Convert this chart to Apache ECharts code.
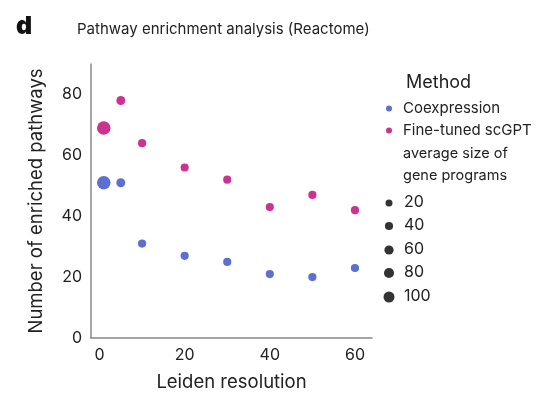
<!DOCTYPE html>
<html><head><meta charset="utf-8">
<script src="https://cdn.jsdelivr.net/npm/echarts@6/dist/echarts.min.js"></script>
<style>html,body{margin:0;padding:0;background:#fff}#c{width:542px;height:394px}</style>
</head><body><div id="c"></div>
<script>
var resolution = [1, 5, 10, 20, 30, 40, 50, 60];
var coexpression = [51, 51, 31, 27, 25, 21, 20, 23];
var scgpt = [69, 78, 64, 56, 52, 43, 47, 42];
var avgSize = [170, 55, 40, 40, 40, 40, 40, 40];
var xTicks = [0, 20, 40, 60];
var yTicks = [0, 20, 40, 60, 80];
var sizeKey = [20, 40, 60, 80, 100];
var FONT = 'Inter';
function dia(v){ return Math.sqrt(31 + 0.9 * v); }
function mk(ys){ return resolution.map(function(x,i){ return [x, ys[i], avgSize[i]]; }); }
var chart = echarts.init(document.getElementById('c'), null, {renderer:'canvas'});
var graphics = [
  {type:'text', left:16, top:14, style:{text:'d', font:'900 25px ' + FONT, fill:'#111'}},
  {type:'text', left:77, top:22, style:{text:'Pathway enrichment analysis (Reactome)', font:'15px ' + FONT, fill:'#222'}},
  {type:'text', left:406, top:74, style:{text:'Method', font:'18px ' + FONT, fill:'#222'}},
  {type:'text', left:403, top:143, style:{text:'average size of\ngene programs', font:'14.5px ' + FONT, fill:'#222', lineHeight:22}}
];
var sizeY = [203, 226, 250, 273, 297];
sizeKey.forEach(function(v,i){
  graphics.push({type:'circle', shape:{cx:389, cy:sizeY[i], r:dia(v)/2}, style:{fill:'#333'}});
  graphics.push({type:'text', left:404, top:sizeY[i]-9, style:{text:String(v), font:'16px ' + FONT, fill:'#222'}});
});
chart.setOption({
  animation:false,
  textStyle:{fontFamily:FONT},
  grid:{left:91, right:170, top:64, bottom:56, containLabel:false, outerBoundsMode:'none'},
  legend:{
    orient:'vertical', left:386, top:101, padding:0, itemWidth:6, itemHeight:6, itemGap:7, icon:'circle',
    data:[{name:'Coexpression'},{name:'Fine-tuned scGPT'}],
    textStyle:{fontSize:15, color:'#222', fontFamily:FONT, padding:[0,0,0,6]}
  },
  graphic: graphics,
  xAxis:{type:'value', min:-2, max:64, name:'Leiden resolution', nameLocation:'middle', nameGap:35,
    nameTextStyle:{fontSize:18.5, color:'#222', fontFamily:FONT},
    axisLine:{show:true, onZero:false, lineStyle:{color:'#888', width:1.5}}, axisTick:{show:false}, splitLine:{show:false},
    axisLabel:{customValues:xTicks, fontSize:16, color:'#222', margin:9, fontFamily:FONT}},
  yAxis:{type:'value', min:0, max:90, name:'Number of enriched pathways', nameLocation:'middle', nameGap:45,
    nameTextStyle:{fontSize:18.5, color:'#222', fontFamily:FONT},
    axisLine:{show:true, onZero:false, lineStyle:{color:'#888', width:1.5}}, axisTick:{show:false}, splitLine:{show:false},
    axisLabel:{customValues:yTicks, fontSize:16, color:'#222', margin:9, fontFamily:FONT}},
  series:[
    {name:'Coexpression', type:'scatter', data:mk(coexpression), symbolSize:function(d){return dia(d[2]);},
      itemStyle:{color:'#5d6fd0', opacity:1}},
    {name:'Fine-tuned scGPT', type:'scatter', data:mk(scgpt), symbolSize:function(d){return dia(d[2]);},
      itemStyle:{color:'#cc3390', opacity:1}}
  ]
});
</script></body></html>
